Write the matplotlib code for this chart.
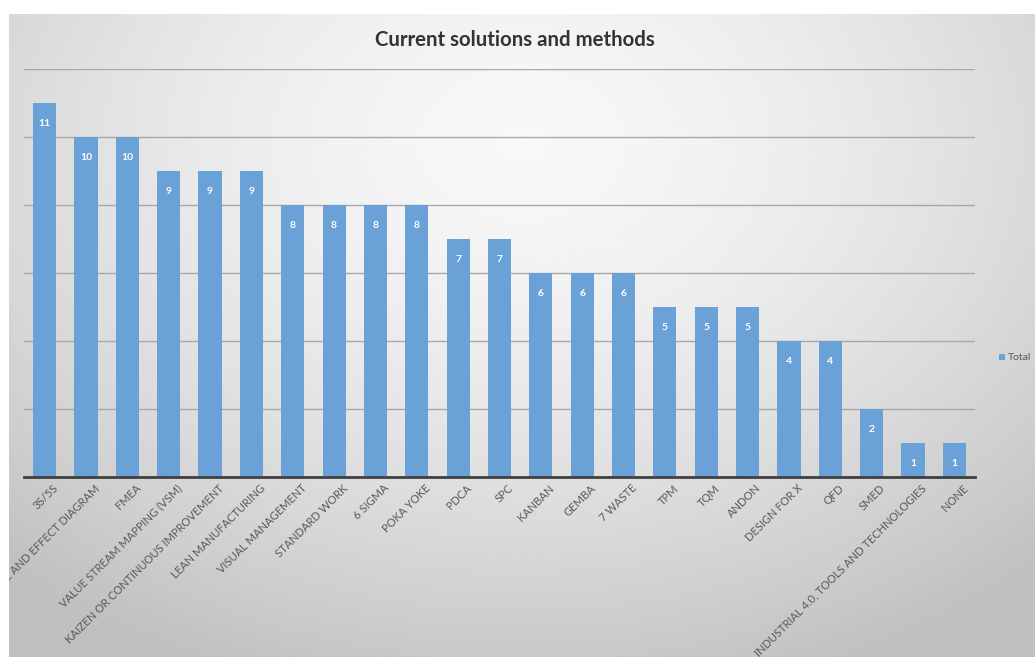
import numpy as np
import matplotlib.pyplot as plt
import matplotlib.transforms as mtransforms

plt.rcParams['font.family'] = ['Lato', 'DejaVu Sans']

categories = ['3S/5S', 'CAUSE AND EFFECT DIAGRAM', 'FMEA', 'VALUE STREAM MAPPING (VSM)',
              'KAIZEN OR CONTINUOUS IMPROVEMENT', 'LEAN MANUFACTURING', 'VISUAL MANAGEMENT',
              'STANDARD WORK', '6 SIGMA', 'POKA YOKE', 'PDCA', 'SPC', 'KANBAN', 'GEMBA',
              '7 WASTE', 'TPM', 'TQM', 'ANDON', 'DESIGN FOR X', 'QFD', 'SMED',
              'INDUSTRIAL 4.0, TOOLS AND TECHNOLOGIES', 'NONE']
totals = [11, 10, 10, 9, 9, 9, 8, 8, 8, 8, 7, 7, 6, 6, 6, 5, 5, 5, 4, 4, 2, 1, 1]

W, H = 1035, 657
fig = plt.figure(figsize=(W / 100, H / 100), dpi=100)
fig.patch.set_facecolor('white')

# gradient background panel
bg = fig.add_axes([9 / W, 0, 1 - 9 / W, 1 - 14 / H])
yy, xx = np.mgrid[0:1:300j, 0:1:500j]
r = np.sqrt(((xx - 0.5) / 0.75) ** 2 + ((yy - 0.2) / 0.9) ** 2)
shade = 0.97 - 0.22 * np.clip(r, 0, 1) ** 1.6
bg.imshow(shade, cmap='gray', vmin=0, vmax=1, aspect='auto', extent=[0, 1, 1, 0])
bg.set_axis_off()

ax = fig.add_axes([24 / W, 1 - 477 / H, (975 - 24) / W, (477 - 69) / H])
ax.patch.set_alpha(0)
x = np.arange(len(categories))
bars = ax.bar(x, totals, width=0.56, color='#6aa2d8', zorder=3, label='Total')
ax.set_xlim(-0.5, len(categories) - 0.5)
ax.set_ylim(0, 12)
ax.set_yticks(range(0, 13, 2))
ax.yaxis.grid(True, color='#a8a8a8', linewidth=1, zorder=0)
ax.tick_params(axis='y', left=False, labelleft=False)
ax.tick_params(axis='x', length=0, pad=4)
for s in ['top', 'right', 'left']:
    ax.spines[s].set_visible(False)
ax.spines['bottom'].set_color('#404040')
ax.spines['bottom'].set_linewidth(2)
ax.spines['bottom'].set_zorder(4)

ax.set_xticks(x)
ax.set_xticklabels(categories, rotation=45, ha='right', rotation_mode='anchor',
                   fontsize=8, color='#595959')
offset = mtransforms.ScaledTranslation(8 / 100, 0, fig.dpi_scale_trans)
for lbl in ax.get_xticklabels():
    lbl.set_transform(lbl.get_transform() + offset)
    lbl.set_clip_on(True)
    lbl.set_clip_box(bg.bbox)

for xi, v in zip(x, totals):
    ax.annotate(str(v), (xi, v), xytext=(0, -15), textcoords='offset points',
                ha='center', va='center', color='white', fontsize=7.5,
                fontweight='bold', zorder=5)

fig.text(515 / W, 1 - 40 / H, 'Current solutions and methods', ha='center', va='center',
         fontsize=14.7, fontweight='bold', color='#333333')

ax.legend(loc='center left', bbox_to_anchor=(990 / W, 1 - 358 / H),
          bbox_transform=fig.transFigure, frameon=False, fontsize=7.5,
          handlelength=0.5, handleheight=0.5, handletextpad=0.3, labelcolor='#595959')

fig.savefig('out.png', dpi=100)
